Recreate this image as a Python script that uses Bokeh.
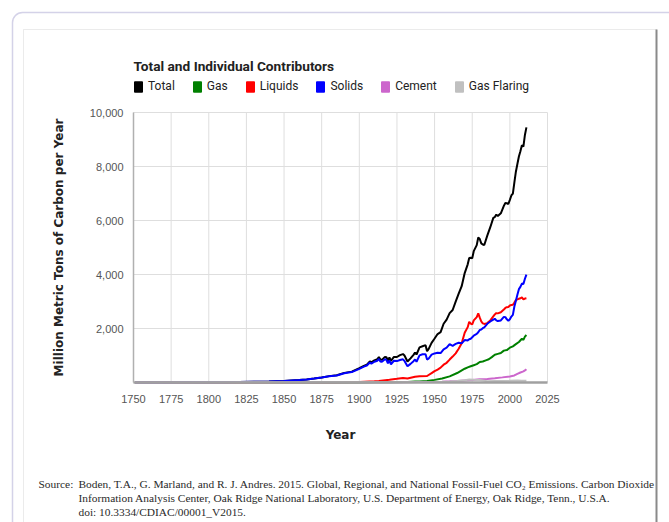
from bokeh.plotting import figure
from bokeh.models import (Legend, LegendItem, Label, BoxAnnotation, FixedTicker,
                          NumeralTickFormatter, Range1d)
from bokeh.embed import file_html
from bokeh.resources import INLINE

# ---------------- data (million metric tons of carbon per year) ----------------
total_years = [1751, 1760, 1770, 1780, 1790, 1800, 1810, 1820, 1830, 1840, 1850, 1855, 1860, 1865,
               1870, 1875, 1880, 1885, 1890, 1895, 1900, 1903, 1905, 1907, 1908, 1910, 1912, 1913,
               1914, 1915, 1917, 1918, 1919, 1920, 1921, 1923, 1925, 1927, 1929, 1930, 1932, 1934,
               1936, 1937, 1938, 1940, 1942, 1944, 1945, 1946, 1948, 1950, 1952, 1954, 1956, 1958,
               1960, 1962, 1964, 1966, 1968, 1970, 1972, 1973, 1974, 1975, 1976, 1978, 1979, 1980,
               1981, 1982, 1983, 1985, 1987, 1989, 1990, 1991, 1992, 1994, 1996, 1997, 1998, 1999,
               2000, 2001, 2002, 2003, 2004, 2005, 2006, 2007, 2008, 2009, 2010, 2011]
total_values = [3, 3, 4, 5, 7, 8, 10, 14, 24, 33, 54, 74, 91, 115,
                147, 188, 236, 270, 356, 403, 534, 617, 663, 785, 745, 819, 867, 943,
                850, 838, 948, 936, 806, 932, 803, 947, 945, 1012, 1053, 1000, 776, 893,
                1025, 1108, 1037, 1299, 1342, 1383, 1160, 1238, 1469, 1630, 1795, 1865, 2177, 2330,
                2569, 2686, 2995, 3288, 3566, 4053, 4376, 4614, 4623, 4596, 4864, 5087, 5369, 5316,
                5152, 5113, 5094, 5439, 5752, 6097, 6127, 6217, 6164, 6266, 6542, 6651, 6643, 6610,
                6765, 6927, 6996, 7416, 7807, 8093, 8370, 8566, 8783, 8740, 9167, 9449]

solids_years = total_years
solids_values = [3, 3, 4, 5, 7, 8, 10, 14, 24, 33, 54, 74, 91, 115,
                 146, 186, 231, 262, 345, 387, 507, 587, 628, 740, 698, 768, 806, 874,
                 780, 764, 862, 840, 709, 818, 675, 805, 793, 832, 858, 799, 600, 690,
                 790, 850, 770, 1005, 1045, 1050, 850, 880, 1030, 1078, 1100, 1090, 1230, 1290,
                 1419, 1360, 1430, 1470, 1450, 1571, 1560, 1600, 1620, 1672, 1740, 1800, 1860, 1947,
                 1960, 2010, 2040, 2174, 2260, 2330, 2359, 2300, 2275, 2300, 2430, 2420, 2340, 2284,
                 2342, 2441, 2504, 2816, 3030, 3250, 3458, 3540, 3663, 3651, 3842, 3997]

liquids_years = [1751, 1870, 1880, 1890, 1900, 1910, 1913, 1920, 1925, 1929, 1932, 1937, 1940,
                 1945, 1948, 1950, 1952, 1954, 1956, 1958, 1960, 1962, 1964, 1966, 1968, 1970,
                 1972, 1973, 1974, 1975, 1976, 1978, 1979, 1980, 1981, 1982, 1983, 1985, 1987,
                 1989, 1990, 1991, 1992, 1994, 1996, 1997, 1998, 1999, 2000, 2001, 2002, 2003,
                 2004, 2005, 2006, 2007, 2008, 2009, 2010, 2011]
liquids_values = [0, 1, 3, 8, 23, 44, 58, 100, 135, 167, 145, 210, 230,
                  240, 345, 423, 480, 550, 660, 730, 849, 960, 1080, 1250, 1450, 1840,
                  2050, 2250, 2180, 2150, 2300, 2420, 2560, 2400, 2260, 2190, 2170, 2200, 2300,
                  2450, 2520, 2570, 2560, 2600, 2700, 2760, 2790, 2800, 2850, 2870, 2880, 2960,
                  3050, 3080, 3100, 3120, 3150, 3080, 3110, 3120]

gas_years = [1751, 1885, 1890, 1900, 1910, 1920, 1929, 1932, 1937, 1940, 1945, 1950, 1955, 1960,
             1965, 1970, 1972, 1974, 1976, 1978, 1980, 1982, 1984, 1986, 1988, 1990, 1992, 1994,
             1996, 1998, 2000, 2002, 2004, 2006, 2008, 2009, 2010, 2011]
gas_values = [0, 4, 3, 3, 7, 12, 23, 22, 35, 40, 56, 97, 150, 227,
              351, 510, 560, 600, 640, 680, 760, 780, 820, 860, 940, 1030, 1060, 1090,
              1180, 1200, 1290, 1340, 1420, 1500, 1620, 1580, 1700, 1760]

cement_years = [1751, 1928, 1940, 1950, 1955, 1960, 1965, 1970, 1975, 1980, 1985, 1990, 1995,
                2000, 2003, 2005, 2007, 2009, 2010, 2011]
cement_values = [0, 10, 14, 18, 30, 43, 60, 78, 95, 120, 131, 157, 190,
                 226, 260, 320, 370, 410, 446, 494]

flaring_years = [1751, 1950, 1955, 1960, 1965, 1970, 1973, 1976, 1980, 1985, 1990, 1995, 2000,
                 2005, 2008, 2011]
flaring_values = [0, 23, 30, 39, 55, 87, 110, 100, 90, 50, 60, 60, 61, 70, 66, 63]

series_names = ["Total", "Gas", "Liquids", "Solids", "Cement", "Gas Flaring"]
series_colors = ["#000000", "#008000", "#ff0000", "#0000ff", "#cc66cc", "#c0c0c0"]

x_min, x_max = 1750, 2025
y_min, y_max = 0, 10000
x_ticks = [1750, 1775, 1800, 1825, 1850, 1875, 1900, 1925, 1950, 1975, 2000, 2025]
y_ticks = [2000, 4000, 6000, 8000, 10000]

chart_title = "Total and Individual Contributors"
source_head = "Source:"
source_lines = [
    "Boden, T.A., G. Marland, and R. J. Andres. 2015. Global, Regional, and National Fossil-Fuel CO\u2082 Emissions. Carbon Dioxide",
    "Information Analysis Center, Oak Ridge National Laboratory, U.S. Department of Energy, Oak Ridge, Tenn., U.S.A.",
    "doi: 10.3334/CDIAC/00001_V2015.",
]

# ---------------- layout: the frame fills the whole 669x522 canvas ----------------
W, H = 669, 522
PL, PR, PT, PB = 133, 547, 112, 382          # plot box in canvas pixels
xs = (x_max - x_min) / (PR - PL)              # data units per pixel
ys = (y_max - y_min) / (PB - PT)
x_range = Range1d(x_min - PL * xs, x_max + (W - PR) * xs)
y_range = Range1d(y_min - (H - PB) * ys, y_max + PT * ys)


def sy(cy):  # canvas y (top-down) -> screen units (bottom-up)
    return H - cy


p = figure(width=W, height=H, output_backend="svg", toolbar_location=None,
           x_range=x_range, y_range=y_range, title=None,
           min_border_left=0, min_border_right=0, min_border_top=0, min_border_bottom=0,
           background_fill_color="white", border_fill_color="white")
p.outline_line_color = None
p.grid.visible = False

# axes fixed at the plot box edges
p.xaxis.fixed_location = y_min
p.yaxis.fixed_location = x_min
p.xaxis.bounds = (x_min, x_max)
p.yaxis.bounds = (y_min, y_max)
p.xaxis.ticker = FixedTicker(ticks=x_ticks)
p.yaxis.ticker = FixedTicker(ticks=y_ticks)
p.yaxis.formatter = NumeralTickFormatter(format="0,0")

for ax in (p.xaxis, p.yaxis):
    ax.major_tick_line_color = None
    ax.minor_tick_line_color = None
    ax.major_label_text_font = "Liberation Sans"
    ax.major_label_text_font_size = "11px"
    ax.major_label_text_color = "#555555"
    ax.axis_label_text_font = "DejaVu Sans"
    ax.axis_label_text_font_style = "bold"
    ax.axis_label_text_color = "#222222"

p.xaxis.axis_line_color = "#a0a0a0"
p.xaxis.axis_line_width = 2.5
p.yaxis.axis_line_color = "#b0b0b0"
p.yaxis.axis_line_width = 1.5
p.xaxis.major_label_standoff = 6
p.yaxis.major_label_standoff = 4
p.xaxis.axis_label = "Year"
p.xaxis.axis_label_text_font_size = "12px"
p.xaxis.axis_label_standoff = 22
p.yaxis.axis_label = "Million Metric Tons of Carbon per Year"
p.yaxis.axis_label_text_font_size = "12px"
p.yaxis.axis_label_standoff = 21

# grid lines limited to the plot box
p.segment(x0=x_ticks, x1=x_ticks, y0=[y_min] * len(x_ticks), y1=[y_max] * len(x_ticks),
          line_color="#dedede", line_width=1, level="underlay")
p.segment(x0=[x_min] * len(y_ticks), x1=[x_max] * len(y_ticks), y0=y_ticks, y1=y_ticks,
          line_color="#dedede", line_width=1, level="underlay")

line_data = [
    (total_years, total_values, 0),
    (liquids_years, liquids_values, 2),
    (gas_years, gas_values, 1),
    (solids_years, solids_values, 3),
    (cement_years, cement_values, 4),
    (flaring_years, flaring_values, 5),
]
for yrs, vals, ci in line_data:
    p.line(yrs, vals, line_color=series_colors[ci], line_width=2)

# legend swatches: hidden one-item area glyphs so that the legend draws filled boxes
items = []
for name, color in zip(series_names, series_colors):
    r = p.quad(left=[x_min], right=[x_min], top=[y_min], bottom=[y_min],
               fill_color=color, line_color=color, visible=False)
    items.append(LegendItem(label=name, renderers=[r]))

legend = Legend(items=items, orientation="horizontal", location=(133, sy(93)),
                glyph_width=10, glyph_height=13, label_height=13, label_standoff=5,
                spacing=17, padding=0, margin=0, border_line_color=None,
                background_fill_alpha=0, inactive_fill_alpha=0,
                label_text_font="Roboto", label_text_font_size="12px",
                label_text_color="#222222")
p.add_layout(legend, "center")

p.add_layout(Label(x=133, y=sy(65), x_units="screen", y_units="screen", text=chart_title,
                   text_font="Roboto", text_font_style="bold", text_font_size="13.7px",
                   text_color="#222222", text_baseline="alphabetic"))

p.add_layout(Label(x=38, y=sy(483), x_units="screen", y_units="screen", text=source_head,
                   text_font="Liberation Serif", text_font_size="11.4px", text_color="#2a2a2a",
                   text_baseline="alphabetic"))
for i, line in enumerate(source_lines):
    p.add_layout(Label(x=78, y=sy(483 + 14 * i), x_units="screen", y_units="screen",
                       text=line, text_font="Liberation Serif", text_font_size="11.4px",
                       text_color="#2a2a2a", text_baseline="alphabetic"))

# panel borders
p.add_layout(BoxAnnotation(left=12, right=720, top=sy(12), bottom=sy(560),
                           left_units="screen", right_units="screen", top_units="screen",
                           bottom_units="screen", fill_alpha=0, line_color="#6f6bb3",
                           line_width=1.5, border_radius=10))
p.add_layout(BoxAnnotation(left=23, right=656, top=sy(29), bottom=sy(560),
                           left_units="screen", right_units="screen", top_units="screen",
                           bottom_units="screen", fill_alpha=0, line_color="#bdbdbd",
                           line_width=1))
p.add_layout(BoxAnnotation(left=655, right=657, top=sy(29), bottom=sy(560),
                           left_units="screen", right_units="screen", top_units="screen",
                           bottom_units="screen", fill_color="#8a8a8a", fill_alpha=1,
                           line_alpha=0))

open("out.html", "w").write(file_html(p, INLINE))
